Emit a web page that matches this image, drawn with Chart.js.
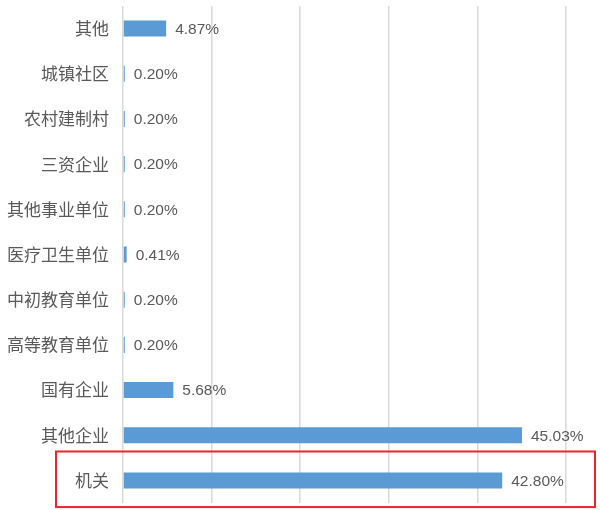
<!DOCTYPE html>
<html>
<head>
<meta charset="utf-8">
<script src="https://cdn.jsdelivr.net/npm/chart.js@4"></script>
<style>
html,body{margin:0;padding:0;background:#fff;}
#wrap{width:600px;height:510px;position:relative;}
</style>
</head>
<body>
<div id="wrap"><canvas id="c"></canvas></div>
<script>
const categories = ["其他","城镇社区","农村建制村","三资企业","其他事业单位","医疗卫生单位","中初教育单位","高等教育单位","国有企业","其他企业","机关"];
const values = [4.87,0.20,0.20,0.20,0.20,0.41,0.20,0.20,5.68,45.03,42.80];
const valueLabels = ["4.87%","0.20%","0.20%","0.20%","0.20%","0.41%","0.20%","0.20%","5.68%","45.03%","42.80%"];
const highlighted = "机关";

const labelPlugin = {
  id: 'valueLabels',
  afterDatasetsDraw(chart) {
    const ctx = chart.ctx;
    const meta = chart.getDatasetMeta(0);
    ctx.save();
    ctx.font = '15.5px "Liberation Sans", Arial, sans-serif';
    ctx.fillStyle = '#595959';
    ctx.textBaseline = 'middle';
    ctx.textAlign = 'left';
    meta.data.forEach((bar, i) => {
      ctx.fillText(valueLabels[i], bar.x + 9, bar.y + 1);
    });
    ctx.restore();
  }
};

const boxPlugin = {
  id: 'highlightBox',
  afterDraw(chart) {
    const idx = categories.indexOf(highlighted);
    if (idx < 0) return;
    const y = chart.scales.y;
    const step = y.getPixelForValue(1) - y.getPixelForValue(0);
    const cy = y.getPixelForValue(idx);
    const ctx = chart.ctx;
    ctx.save();
    ctx.strokeStyle = '#e8262d';
    ctx.lineWidth = 2;
    ctx.strokeRect(56, cy - step * 0.64, chart.width - 61, step * 1.23);
    ctx.restore();
  }
};

new Chart(document.getElementById('c'), {
  type: 'bar',
  data: {
    labels: categories,
    datasets: [{
      data: values,
      backgroundColor: '#5b9bd5',
      borderWidth: 0,
      categoryPercentage: 1,
      barPercentage: 0.355
    }]
  },
  options: {
    indexAxis: 'y',
    responsive: true,
    maintainAspectRatio: false,
    animation: false,
    layout: { padding: { top: 6, bottom: 7, right: 34, left: 0 } },
    plugins: { legend: { display: false }, tooltip: { enabled: false } },
    scales: {
      x: {
        min: 0, max: 50,
        ticks: { display: false, stepSize: 10 },
        grid: { color: '#d9d9d9', lineWidth: 1.5, drawTicks: false },
        border: { display: false }
      },
      y: {
        ticks: {
          color: '#595959',
          font: { family: '"Noto Sans CJK SC", sans-serif', size: 17 },
          padding: 14
        },
        grid: { display: false, drawTicks: false },
        border: { display: false },
        afterFit(scale) {
          scale.width = 123;
          scale.paddingTop = 0;
          scale.paddingBottom = 0;
        }
      }
    }
  },
  plugins: [labelPlugin, boxPlugin]
});
</script>
</body>
</html>
